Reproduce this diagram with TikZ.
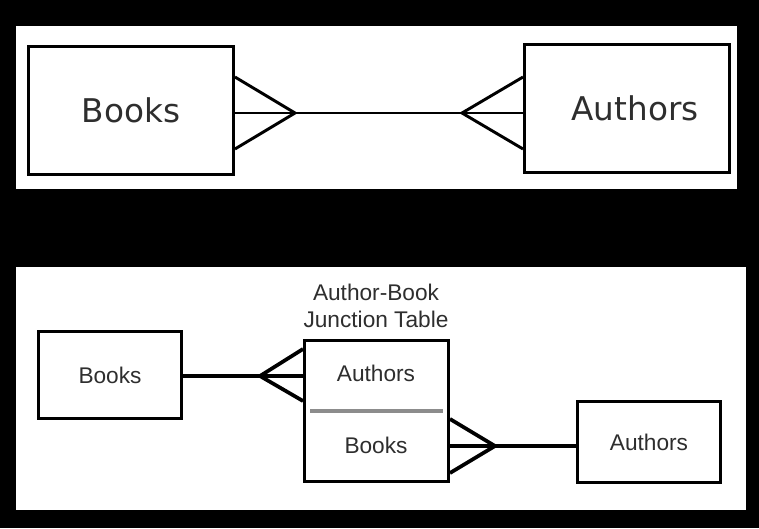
\documentclass[tikz,border=0pt]{standalone}
\usepackage{fontspec}
\setmainfont{Liberation Sans}
\newfontfamily\topfont{DejaVu Sans}
\definecolor{inkgray}{gray}{0.18}
\definecolor{rulegray}{gray}{0.55}
\begin{document}
\begin{tikzpicture}[x=0.75pt,y=-0.75pt,
    erbox/.style={draw,line width=2.2pt,fill=white,inner sep=0pt,text=inkgray},
    bigbox/.style={erbox,minimum width=153.75pt,minimum height=96pt,font=\topfont\fontsize{24.5}{28}\selectfont},
    smallbox/.style={erbox,font=\fontsize{17}{20}\selectfont},
    crow/.style={line width=2.2pt},
    crowb/.style={line width=2.8pt}]
  % background and panels
  \fill[black] (0,0) rectangle (759,528);
  \fill[white] (16,26) rectangle (737,189);
  \fill[white] (16,267) rectangle (746,510);

  % top: many-to-many
  \node[bigbox] (booksT) at (131,110.5) {Books};
  \node[bigbox] (authorsT) at (627,108.5) {\hspace*{12pt}Authors};
  \coordinate (tipL) at (295,113);
  \coordinate (tipR) at (462,113);
  \draw[crow] (booksT.east |- tipL) -- (tipL) -- (tipR) -- (authorsT.west |- tipR);
  \draw[crow] (booksT.east |- 0,77) -- (tipL) -- (booksT.east |- 0,149);
  \draw[crow] (authorsT.west |- 0,77) -- (tipR) -- (authorsT.west |- 0,149);

  % bottom: junction table
  \node[smallbox,minimum width=107.25pt,minimum height=65.25pt] (booksB) at (110,375) {Books};
  \node[smallbox,minimum width=108pt,minimum height=105.75pt] (junction) at (376.5,411) {};
  \node[smallbox,minimum width=107.25pt,minimum height=60.75pt] (authorsB) at (649,442) {Authors};
  \node[font=\fontsize{17}{20.25}\selectfont,text=inkgray,align=center] (title) at (376,305.5) {Author-Book\\Junction Table};
  \node[font=\fontsize{17}{20}\selectfont,text=inkgray] (jAuthors) at (376,373) {Authors};
  \node[font=\fontsize{17}{20}\selectfont,text=inkgray] (jBooks) at (376,445) {Books};
  \draw[rulegray,line width=2.4pt] (310,411) -- (443,411);

  \coordinate (tipJ) at (260,376);
  \coordinate (tipK) at (495,446);
  \draw[crowb] (booksB.east |- tipJ) -- (tipJ) -- (junction.west |- tipJ);
  \draw[crowb] (junction.west |- 0,349) -- (tipJ) -- (junction.west |- 0,401);
  \draw[crowb] (junction.east |- tipK) -- (tipK) -- (authorsB.west |- tipK);
  \draw[crowb] (junction.east |- 0,419) -- (tipK) -- (junction.east |- 0,473);
\end{tikzpicture}
\end{document}
